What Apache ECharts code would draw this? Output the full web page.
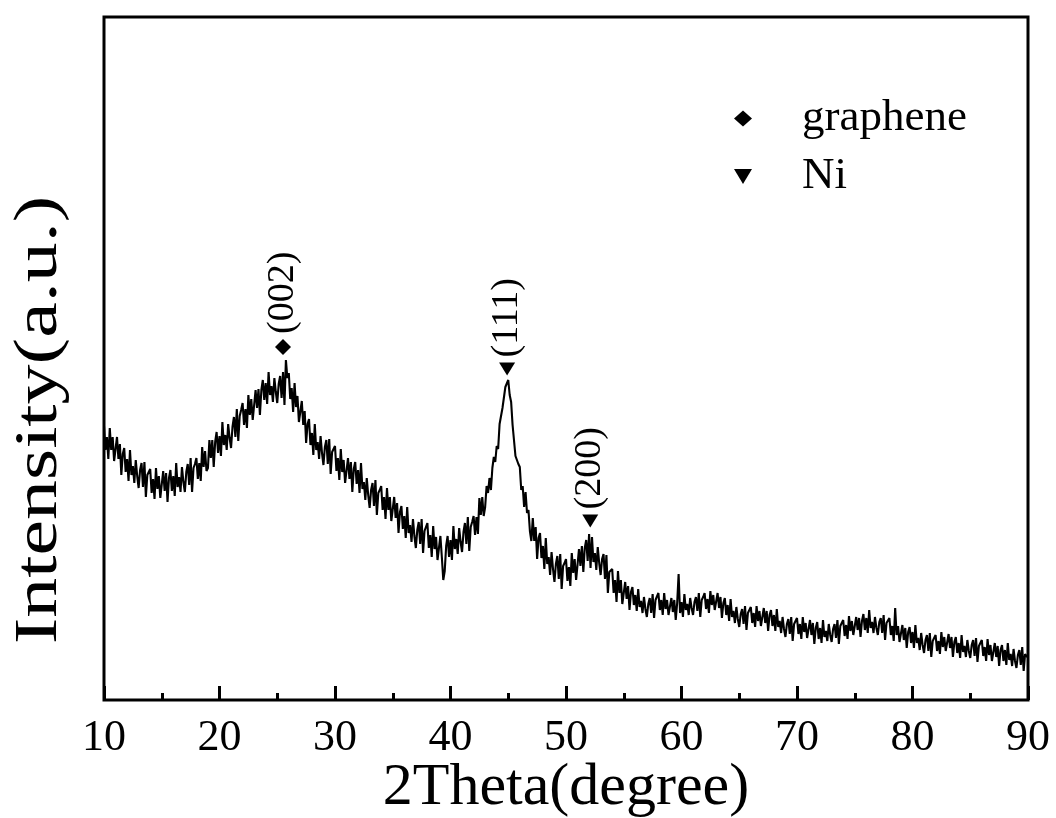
<!DOCTYPE html>
<html>
<head>
<meta charset="utf-8">
<script src="https://cdn.jsdelivr.net/npm/echarts@6/dist/echarts.min.js"></script>
<style>
  html, body { margin: 0; padding: 0; background: #fff; }
  #chart { width: 1056px; height: 818px; }
</style>
</head>
<body>
<div id="chart"></div>
<script>
// 2Theta sampling grid (degrees): start and step of the scan
const thetaStart = 10;
const thetaStep = 0.125;

// Intensity (a.u.), 8 values per degree, 10 .. 90
const intensity = [
  274, 250, 263, 241, 272, 250, 263, 239,   // 10
  239, 263, 241, 256, 225, 246, 252, 228,   // 11
  241, 219, 250, 225, 234, 217, 240, 224,   // 12
  212, 230, 237, 213, 238, 203, 225, 227,   // 13
  231, 207, 221, 201, 232, 211, 224, 202,   // 14
  202, 229, 209, 227, 198, 222, 230, 209,   // 15
  224, 204, 237, 213, 223, 208, 233, 218,   // 16
  208, 228, 236, 215, 242, 208, 232, 236,   // 17
  242, 221, 237, 219, 253, 233, 249, 229,   // 18
  232, 260, 242, 260, 233, 258, 268, 247,   // 19
  264, 244, 278, 255, 265, 250, 276, 262,   // 20
  252, 273, 283, 263, 291, 259, 284, 290,   // 21
  297, 275, 291, 272, 305, 285, 301, 280,   // 22
  282, 310, 292, 311, 285, 310, 320, 300,   // 23
  317, 296, 328, 305, 314, 298, 322, 308,   // 24
  297, 316, 324, 302, 328, 295, 340, 322,   // 25
  327, 301, 312, 288, 317, 293, 304, 278,   // 26
  276, 299, 275, 289, 257, 276, 281, 255,   // 27
  267, 245, 276, 250, 258, 241, 264, 247,   // 28
  235, 253, 260, 236, 261, 226, 248, 250,   // 29
  254, 229, 242, 220, 251, 228, 240, 217,   // 30
  216, 242, 221, 238, 208, 231, 238, 216,   // 31
  230, 207, 237, 211, 218, 200, 222, 205,   // 32
  192, 210, 217, 194, 220, 185, 207, 210,   // 33
  214, 190, 203, 181, 212, 190, 203, 179,   // 34
  179, 203, 182, 197, 167, 188, 194, 171,   // 35
  184, 162, 193, 167, 175, 158, 181, 164,   // 36
  152, 170, 178, 156, 181, 147, 169, 173,   // 37
  177, 152, 165, 143, 174, 151, 163, 140,   // 38
  139, 164, 143, 120, 129, 154, 164, 143,   // 39
  160, 140, 174, 151, 161, 146, 172, 158,   // 40
  148, 168, 177, 156, 183, 149, 173, 178,   // 41
  184, 165, 183, 166, 202, 185, 203, 184,   // 42
  193, 214, 207, 222, 210, 232, 243, 238,   // 43
  254, 251, 276, 275, 292, 294, 313, 311,   // 44
  320, 305, 298, 275, 274, 244, 245, 236,   // 45
  233, 210, 214, 193, 208, 187, 190, 169,   // 46
  159, 182, 159, 173, 141, 162, 167, 142,   // 47
  154, 131, 162, 136, 143, 125, 148, 131,   // 48
  118, 136, 144, 121, 146, 111, 134, 137,   // 49
  141, 119, 133, 114, 147, 127, 141, 120,   // 50
  122, 151, 134, 154, 128, 152, 160, 139,   // 51
  166, 132, 163, 138, 147, 130, 153, 137,   // 52
  125, 141, 146, 121, 145, 107, 128, 129,   // 53
  131, 107, 120, 98, 129, 107, 120, 96,     // 54
  98, 118, 101, 114, 90, 108, 113, 95,      // 55
  105, 89, 111, 93, 99, 87, 103, 91,        // 56
  83, 96, 102, 87, 106, 82, 100, 102,       // 57
  107, 90, 100, 85, 107, 91, 100, 85,       // 58
  84, 102, 88, 100, 80, 97, 126, 87,        // 59
  98, 83, 106, 90, 96, 85, 102, 92,         // 60
  85, 98, 103, 89, 107, 83, 100, 103,       // 61
  107, 91, 101, 87, 109, 95, 105, 90,       // 62
  90, 107, 92, 103, 82, 97, 102, 85,        // 63
  95, 79, 101, 83, 89, 77, 93, 81,          // 64
  73, 86, 91, 76, 94, 70, 87, 89,           // 65
  93, 77, 87, 73, 94, 79, 89, 74,           // 66
  74, 92, 77, 89, 69, 85, 90, 74,           // 67
  85, 69, 91, 73, 79, 67, 83, 71,           // 68
  63, 76, 81, 66, 83, 59, 76, 78,           // 69
  82, 66, 76, 61, 83, 68, 77, 62,           // 70
  62, 80, 65, 77, 56, 72, 78, 61,           // 71
  72, 57, 80, 63, 69, 59, 76, 65,           // 72
  58, 71, 76, 62, 80, 56, 74, 76,           // 73
  80, 64, 75, 61, 84, 69, 79, 65,           // 74
  65, 83, 70, 82, 63, 79, 86, 70,           // 75
  82, 67, 90, 72, 78, 67, 83, 72,           // 76
  65, 78, 82, 67, 85, 60, 77, 78,           // 77
  82, 65, 74, 59, 92, 65, 74, 58,           // 78
  57, 75, 60, 72, 52, 68, 73, 57,           // 79
  68, 52, 75, 57, 62, 50, 67, 55,           // 80
  47, 60, 65, 49, 67, 43, 59, 61,           // 81
  65, 49, 59, 46, 68, 53, 63, 49,           // 82
  49, 66, 52, 63, 43, 58, 63, 47,           // 83
  57, 42, 65, 48, 54, 43, 60, 49,           // 84
  42, 55, 60, 44, 62, 38, 54, 56,           // 85
  60, 44, 53, 39, 61, 45, 55, 39,           // 86
  39, 57, 43, 54, 34, 50, 55, 39,           // 87
  50, 35, 57, 40, 46, 34, 51, 39,           // 88
  32, 45, 50, 35, 53, 29, 46, 48,           // 89
  42                                        // 90
];

// Peak markers: [2Theta, intensity, label]
const graphenePeaks = [[25.5, 353, '(002)']];
const niPeaks = [[44.9, 331, '(111)'], [52.1, 179, '(200)']];

// Axis ranges / ticks
const xMin = 10, xMax = 90, xInterval = 10;
const yMin = 0, yMax = 683;

const curve = intensity.map((v, i) => [thetaStart + i * thetaStep, v]);

const serif = '"Liberation Serif", "Times New Roman", serif';

const peakLabel = {
  show: true,
  position: 'top',
  distance: 5,
  rotate: 90,
  align: 'left',
  verticalAlign: 'middle',
  formatter: p => p.data[2],
  fontFamily: serif,
  fontSize: 38,
  color: '#000'
};

const chart = echarts.init(document.getElementById('chart'), null, { renderer: 'canvas' });
chart.setOption({
  animation: false,
  backgroundColor: '#fff',
  grid: {
    left: 104, right: 28, top: 17, bottom: 118,
    outerBoundsMode: 'none',
    containLabel: false,
    show: true, borderColor: '#000', borderWidth: 3, backgroundColor: 'transparent'
  },
  legend: {
    data: [
      { name: 'graphene', icon: 'diamond' },
      { name: 'Ni', icon: 'path://M0,0 L12,0 L6,10 Z' }
    ],
    orient: 'vertical',
    left: 729,
    top: 91,
    itemWidth: 18,
    itemHeight: 16,
    itemGap: 13,
    textStyle: { fontFamily: serif, fontSize: 45, color: '#000', padding: [0, 0, 0, 45] },
    itemStyle: { color: '#000', opacity: 1 },
    selectedMode: false
  },
  graphic: [
    {
      type: 'text',
      x: 40,
      y: 420,
      rotation: Math.PI / 2,
      scaleX: 1.29,
      scaleY: 1,
      style: {
        text: 'Intensity(a.u.)',
        fontFamily: serif,
        fontSize: 62,
        fill: '#000',
        align: 'center',
        verticalAlign: 'middle'
      }
    }
  ],
  xAxis: {
    type: 'value',
    min: xMin, max: xMax, interval: xInterval,
    name: '2Theta(degree)',
    nameLocation: 'middle',
    nameGap: 58,
    nameMoveOverlap: false,
    nameTextStyle: { fontFamily: serif, fontSize: 60, color: '#000' },
    axisLine: { show: false },
    axisTick: { show: true, inside: true, length: 14, lineStyle: { color: '#000', width: 3 } },
    minorTick: { show: true, splitNumber: 2, length: 7, lineStyle: { color: '#000', width: 3 } },
    axisLabel: { fontFamily: serif, fontSize: 44, color: '#000', margin: 16 },
    splitLine: { show: false }
  },
  yAxis: {
    type: 'value',
    min: yMin, max: yMax,
    axisLine: { show: false },
    axisTick: { show: false },
    axisLabel: { show: false },
    splitLine: { show: false }
  },
  series: [
    {
      name: 'XRD',
      type: 'line',
      data: curve,
      showSymbol: false,
      symbol: 'none',
      lineStyle: { color: '#000', width: 2.1 },
      z: 2
    },
    {
      name: 'graphene',
      type: 'scatter',
      data: graphenePeaks,
      symbol: 'diamond',
      symbolSize: 16,
      itemStyle: { color: '#000', opacity: 1 },
      label: peakLabel,
      z: 3
    },
    {
      name: 'Ni',
      type: 'scatter',
      data: niPeaks,
      symbol: 'triangle',
      symbolRotate: 180,
      symbolSize: [16, 13],
      itemStyle: { color: '#000', opacity: 1 },
      label: peakLabel,
      z: 3
    }
  ]
});
</script>
</body>
</html>
